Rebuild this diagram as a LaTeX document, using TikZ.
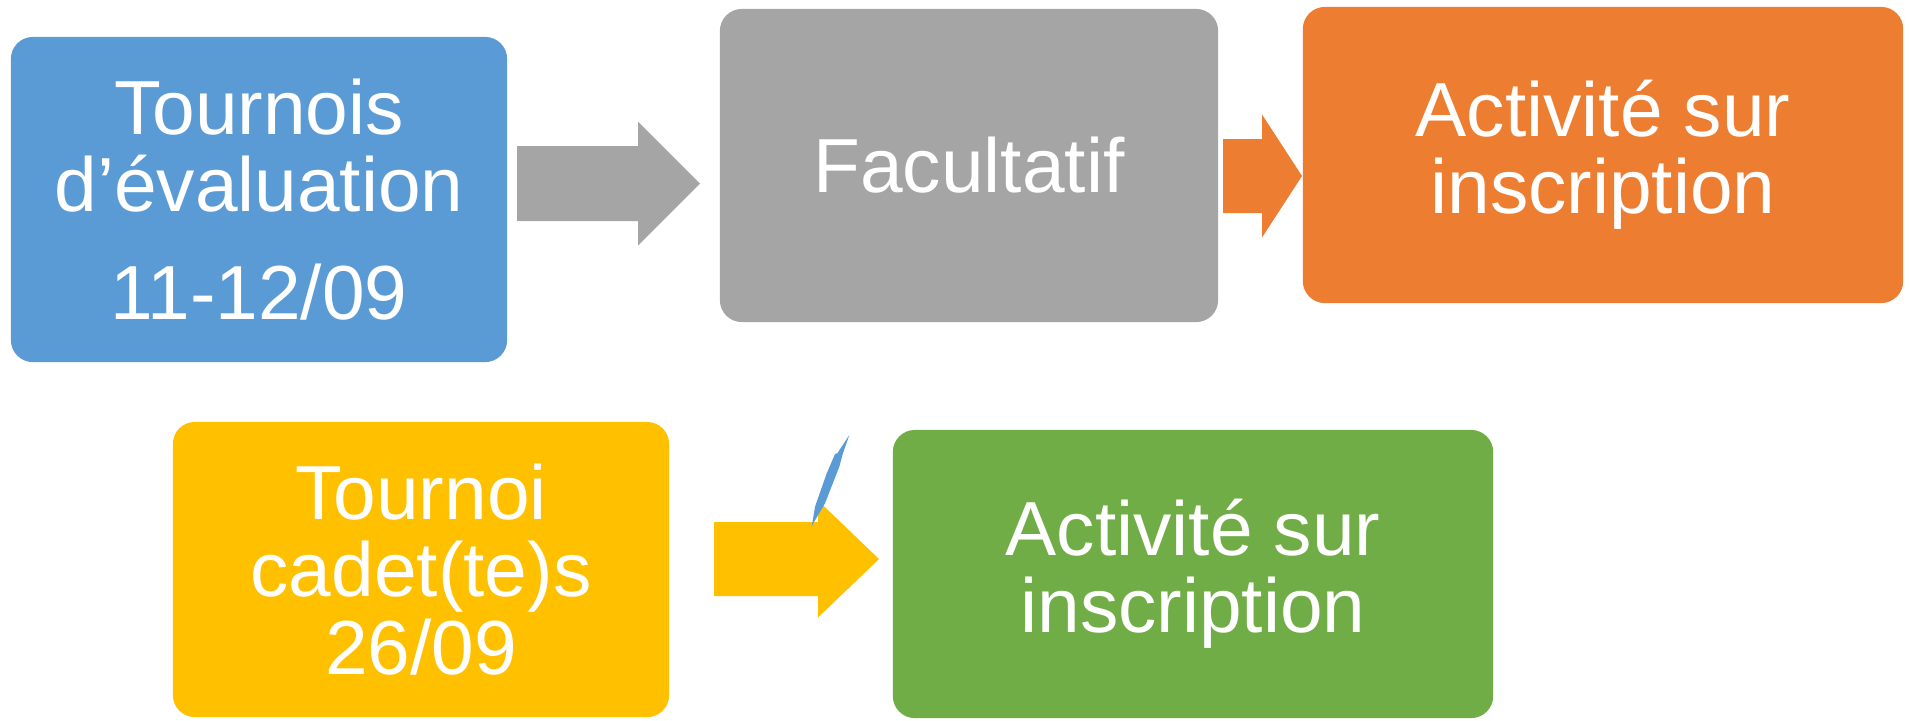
\documentclass[tikz,border=0pt]{standalone}
\usepackage{fontspec}
\setmainfont{Liberation Sans}
\definecolor{boxblue}{HTML}{5B9BD5}
\definecolor{boxgray}{HTML}{A5A5A5}
\definecolor{boxorange}{HTML}{ED7D31}
\definecolor{boxyellow}{HTML}{FFC000}
\definecolor{boxgreen}{HTML}{70AD47}
\newcommand {\barrow}[7] {\fill[#7] (#1,#4-#5) -- (#2,#4-#5) -- (#2,#4-#6) -- (#3,#4) -- (#2,#4+#6) -- (#2,#4+#5) -- (#1,#4+#5) -- cycle;}

\begin{document}
\begin{tikzpicture}[x=0.01cm, y=-0.01cm,
	box/.style={rounded corners=0.22cm, inner sep=0pt, text=white, align=center, font=\fontsize{21.8}{22}\selectfont}]
	\useasboundingbox (0,0) rectangle (1910,720);
	\node[box, fill=boxblue, minimum width=4.96cm, minimum height=3.25cm] (eval) at (259,199.5) {Tournois\\d’évaluation\\[0.31cm]11-12/09};
	\node[box, fill=boxgray, minimum width=4.98cm, minimum height=3.13cm] (facult) at (969,165.5) {Facultatif};
	\node[box, fill=boxorange, minimum width=6.0cm, minimum height=2.96cm] (inscr1) at (1603,155) {Activité sur\\inscription};
	\node[box, fill=boxyellow, minimum width=4.96cm, minimum height=2.95cm] (cadet) at (421,569.5) {Tournoi\\cadet(te)s\\26/09};
	\node[box, fill=boxgreen, minimum width=6.0cm, minimum height=2.88cm] (inscr2) at (1193,574) {Activité sur\\inscription};
	\barrow{517}{638}{700}{183.5}{37.5}{62}{boxgray}
	\barrow{1223}{1262}{1302}{176}{37}{61.5}{boxorange}
	\barrow{714}{818}{879}{559}{37}{58.5}{boxyellow}
	% stray sliver
	\fill[boxblue] (849.3,435) -- (842.7,454) -- (839.3,466.7) -- (825,503.3) -- (813.3,523.3) -- (811.7,526.7) -- (815,506.7) -- (826.7,473.3) -- (835,454) -- (837.3,453.3) -- cycle;
\end{tikzpicture}
\end{document}
